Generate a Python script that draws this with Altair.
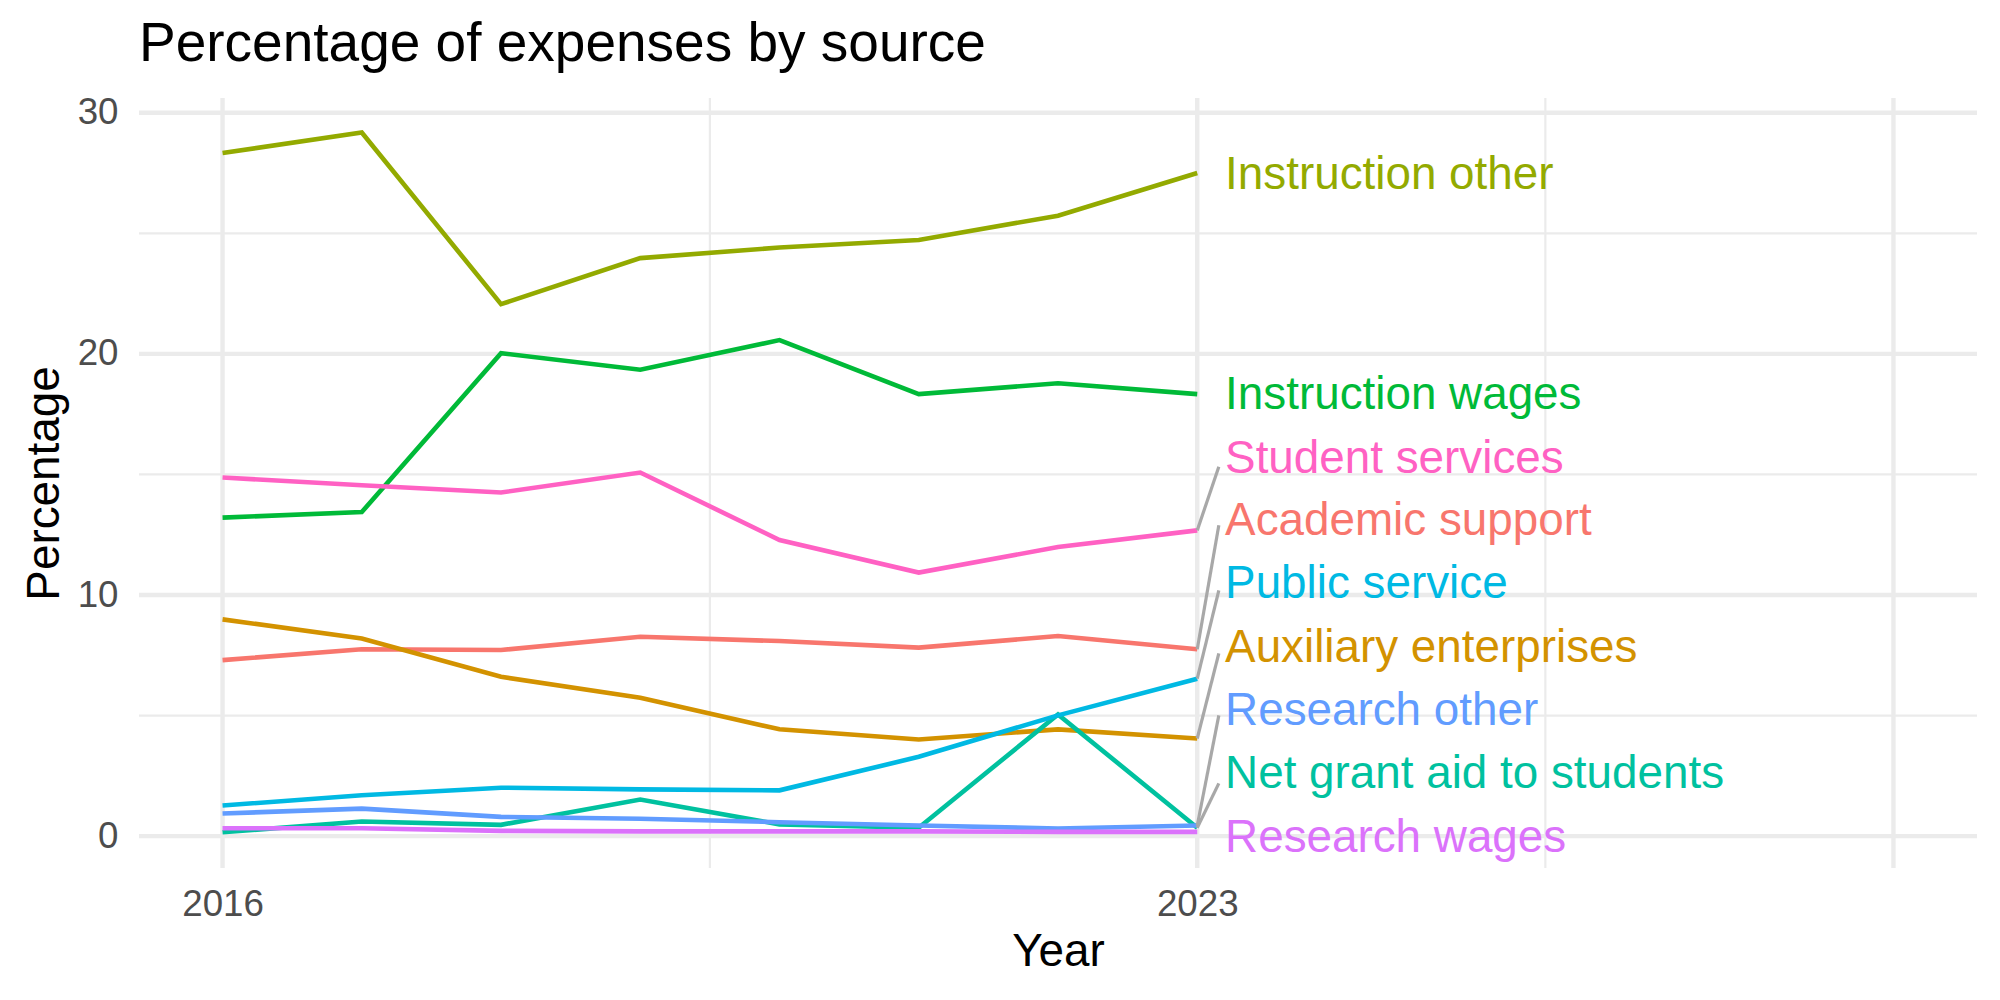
import altair as alt
import pandas as pd

# Share of total expenses by category, 2016-2023 (percent)
years = [2016, 2017, 2018, 2019, 2020, 2021, 2022, 2023]

academic_support = [7.30, 7.75, 7.72, 8.27, 8.09, 7.82, 8.30, 7.75]
auxiliary_enterprises = [8.99, 8.20, 6.61, 5.74, 4.43, 4.01, 4.43, 4.05]
instruction_other = [28.33, 29.18, 22.06, 23.97, 24.41, 24.72, 25.73, 27.50]
instruction_wages = [13.21, 13.44, 20.03, 19.34, 20.57, 18.33, 18.78, 18.33]
net_grant_aid = [0.16, 0.61, 0.47, 1.52, 0.49, 0.35, 5.05, 0.35]
public_service = [1.27, 1.70, 2.01, 1.94, 1.90, 3.29, 5.01, 6.53]
research_other = [0.94, 1.14, 0.80, 0.72, 0.58, 0.44, 0.32, 0.44]
research_wages = [0.33, 0.33, 0.22, 0.20, 0.20, 0.20, 0.18, 0.18]
student_services = [14.87, 14.55, 14.25, 15.08, 12.28, 10.93, 11.99, 12.68]

categories = [
    "Academic support",
    "Auxiliary enterprises",
    "Instruction other",
    "Instruction wages",
    "Net grant aid to students",
    "Public service",
    "Research other",
    "Research wages",
    "Student services",
]
palette = [
    "#F8766D", "#D39200", "#93AA00", "#00BA38", "#00C19F",
    "#00B9E3", "#619CFF", "#DB72FB", "#FF61C3",
]
series = [
    academic_support, auxiliary_enterprises, instruction_other,
    instruction_wages, net_grant_aid, public_service,
    research_other, research_wages, student_services,
]

# Repelled end labels: vertical position of each label and where its leader line stops
label_y = [13.06, 7.81, 27.41, 18.30, 2.56, 10.44, 5.18, -0.07, 15.65]
leader_end_y = [12.89, 7.58, None, None, 2.19, 10.19, 5.01, None, 15.32]
label_x = 2023.2
leader_end_x = 2023.155

rows = []
for cat, vals in zip(categories, series):
    for yr, v in zip(years, vals):
        rows.append({"Year": yr, "Percentage": v, "Source": cat})
lines_df = pd.DataFrame(rows)

labels_df = pd.DataFrame({
    "Source": categories,
    "Year": [label_x] * len(categories),
    "Percentage": label_y,
})

seg_rows = []
for cat, vals, ey in zip(categories, series, leader_end_y):
    if ey is not None:
        seg_rows.append({"Source": cat, "x": years[-1], "y": vals[-1],
                         "x2": leader_end_x, "y2": ey})
seg_df = pd.DataFrame(seg_rows)

grid_y_major = [0, 10, 20, 30]
grid_y_minor = [5, 15, 25]
grid_x_major = [2016, 2023, 2028]
grid_x_minor = [2019.5, 2025.5]

FONT = "Liberation Sans"
GRID = "#EBEBEB"

xscale = alt.Scale(domain=[2015.4, 2028.6], nice=False, zero=False)
yscale = alt.Scale(domain=[-1.32, 30.61], nice=False, zero=False)

xaxis = alt.Axis(
    values=[2016, 2023], format="d", grid=False, ticks=False, tickSize=0,
    domain=False, labelFont=FONT, labelFontSize=36.7, labelColor="#4D4D4D",
    labelBaseline="alphabetic", labelPadding=47, labelFlush=False,
    title="Year", titleFont=FONT, titleFontSize=45.8, titleFontWeight="normal",
    titleColor="black", titleX=919, titleY=97, titleAlign="center",
    titleBaseline="alphabetic",
)
yaxis = alt.Axis(
    values=[0, 10, 20, 30], format="d", grid=False, ticks=False, tickSize=0,
    domain=False, labelFont=FONT, labelFontSize=36.7, labelColor="#4D4D4D",
    labelBaseline="middle", labelPadding=21, labelFlush=False,
    title="Percentage", titleFont=FONT, titleFontSize=45.8,
    titleFontWeight="normal", titleColor="black", titleAngle=270,
    titleX=-81, titleY=385, titleAlign="center", titleBaseline="alphabetic",
)

def X(field):
    return alt.X(field, type="quantitative", scale=xscale, axis=xaxis)

def Y(field):
    return alt.Y(field, type="quantitative", scale=yscale, axis=yaxis)

color = alt.Color("Source:N", scale=alt.Scale(domain=categories, range=palette),
                  legend=None)

hmajor = alt.Chart(pd.DataFrame({"v": grid_y_major})).mark_rule(
    color=GRID, strokeWidth=4.4).encode(y=Y("v"))
hminor = alt.Chart(pd.DataFrame({"v": grid_y_minor})).mark_rule(
    color=GRID, strokeWidth=2.2).encode(y=Y("v"))
vmajor = alt.Chart(pd.DataFrame({"v": grid_x_major})).mark_rule(
    color=GRID, strokeWidth=4.4).encode(x=X("v"))
vminor = alt.Chart(pd.DataFrame({"v": grid_x_minor})).mark_rule(
    color=GRID, strokeWidth=2.2).encode(x=X("v"))

lines = alt.Chart(lines_df).mark_line(strokeWidth=4.6).encode(
    x=X("Year"), y=Y("Percentage"), color=color, detail="Source:N",
    order=alt.Order("Year:Q"),
)

leaders = alt.Chart(seg_df).mark_rule(color="#A8A8A8", strokeWidth=3.2).encode(
    x=X("x"), y=Y("y"), x2="x2", y2="y2",
)

labels = alt.Chart(labels_df).mark_text(
    align="left", baseline="middle", font=FONT, fontSize=45.8,
).encode(x=X("Year"), y=Y("Percentage"), text="Source:N", color=color)

chart = alt.layer(
    hminor, hmajor, vminor, vmajor, lines, leaders, labels,
).properties(
    width=1838,
    height=770,
    autosize=alt.AutoSizeParams(type="none"),
    padding={"left": 139, "top": 98, "right": 23, "bottom": 132},
    title=alt.TitleParams(
        "Percentage of expenses by source", anchor="start", frame="group",
        font=FONT, fontSize=55, fontWeight="normal", color="black",
        baseline="alphabetic", offset=32, dy=53,
    ),
    background="white",
).configure_view(stroke=None)

chart.save("out.html", embed_options={"renderer": "svg", "actions": False})
